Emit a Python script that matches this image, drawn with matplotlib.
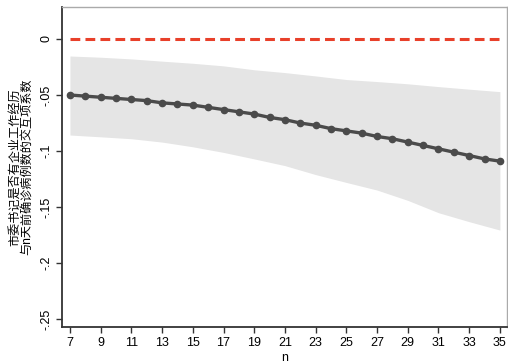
import matplotlib
matplotlib.use("Agg")
import matplotlib.pyplot as plt
import numpy as np

plt.rcParams["font.family"] = ["Liberation Sans", "Noto Sans CJK SC", "DejaVu Sans"]

# point estimates, n = 7..35
n_days = list(range(7, 36))
coef = [-0.050, -0.051, -0.052, -0.053, -0.054, -0.055, -0.057, -0.058, -0.059,
        -0.061, -0.063, -0.065, -0.067, -0.070, -0.072, -0.075, -0.077, -0.080,
        -0.082, -0.084, -0.087, -0.089, -0.092, -0.095, -0.098, -0.101, -0.104,
        -0.107, -0.109]

# confidence band
band_n = [7, 9, 11, 13, 15, 17, 19, 21, 23, 25, 27, 29, 31, 33, 35]
band_hi = [-0.0152, -0.0163, -0.0178, -0.0198, -0.0217, -0.024, -0.0275, -0.030,
           -0.033, -0.0362, -0.038, -0.040, -0.0425, -0.0448, -0.047]
band_lo = [-0.0857, -0.0873, -0.0890, -0.092, -0.0962, -0.1012, -0.107, -0.113,
           -0.121, -0.128, -0.1348, -0.144, -0.155, -0.163, -0.1705]

xticks = list(range(7, 36, 2))
yticks = [0, -0.05, -0.1, -0.15, -0.2, -0.25]
ytick_labels = ["0", "-.05", "-.1", "-.15", "-.2", "-.25"]

ylabel = "市委书记是否有企业工作经历\n与n天前确诊病例数的交互项系数"


def main():
    fig = plt.figure(figsize=(5.08, 3.63), dpi=100)
    ax = fig.add_axes([0.122, 0.099, 0.876, 0.882])

    ax.fill_between(band_n, band_lo, band_hi, color="#e5e5e5", linewidth=0)
    ax.plot([n_days[0], n_days[-1]], [0, 0], color="#e8402a", linewidth=2.2,
            linestyle=(0, (3.2, 1.7)))
    ax.plot(n_days, coef, color="#4b4b4b", linewidth=2.4, marker="o",
            markersize=4.5)

    ax.set_xlim(6.48, 35.46)
    ax.set_ylim(-0.257, 0.0286)
    ax.set_xticks(xticks)
    ax.set_yticks(yticks)
    ax.set_yticklabels(ytick_labels, rotation=90, va="center")
    ax.tick_params(direction="out", length=4, width=1, labelsize=9,
                   color="#333333", pad=3)

    for side in ("left", "bottom"):
        ax.spines[side].set_color("#333333")
        ax.spines[side].set_linewidth(1.3)
    for side in ("top", "right"):
        ax.spines[side].set_color("#aaaaaa")
        ax.spines[side].set_linewidth(1.0)

    ax.set_xlabel("n", fontsize=9, labelpad=2)
    ax.set_ylabel(ylabel, fontsize=8.7, linespacing=1.05, labelpad=5)

    fig.savefig("out.png", dpi=100)


if __name__ == "__main__":
    main()
